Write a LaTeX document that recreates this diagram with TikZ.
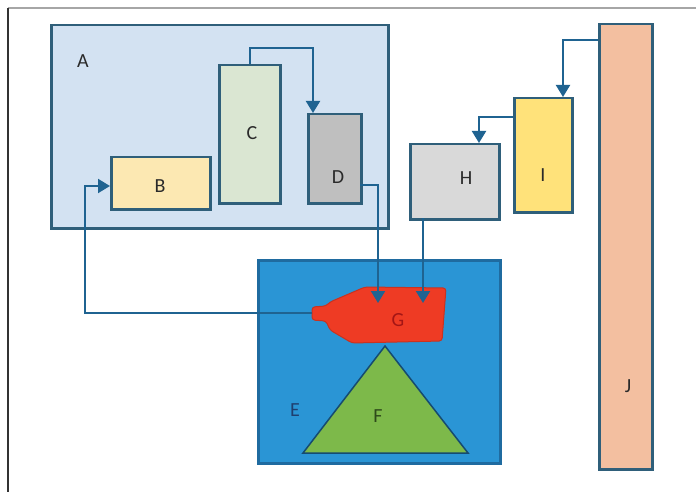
\documentclass[tikz,border=0pt]{standalone}
\usepackage{fontspec}
\setmainfont{Carlito}
\usetikzlibrary{arrows.meta,calc}
\definecolor{lineC}{HTML}{1F6391}
\definecolor{boxC}{HTML}{2F5F7A}
\definecolor{fillA}{HTML}{D3E2F2}
\definecolor{fillB}{HTML}{FCE8B2}
\definecolor{fillC}{HTML}{DAE6D2}
\definecolor{fillD}{HTML}{BFBFBF}
\definecolor{fillH}{HTML}{D9D9D9}
\definecolor{fillI}{HTML}{FFE27A}
\definecolor{fillJ}{HTML}{F3BFA0}
\definecolor{fillE}{HTML}{2A95D5}
\definecolor{edgeE}{HTML}{1F6BA0}
\definecolor{fillF}{HTML}{7DB94A}
\definecolor{fillG}{HTML}{EE3B24}
\definecolor{txtG}{HTML}{A31515}
\definecolor{txtE}{HTML}{1F3F6F}
\definecolor{txtF}{HTML}{2E4A1A}
\definecolor{txt}{HTML}{2A2A2A}
\begin{document}
\begin{tikzpicture}[x=1pt,y=-1pt,
  box/.style={draw=boxC,line width=2.5pt,inner sep=0pt,anchor=north west},
  lbl/.style={font=\fontsize{20}{22}\selectfont,text=txt,inner sep=0pt},
  conn/.style={draw=lineC,line width=2pt,-{Triangle[width=14pt,length=12pt]}},
  plain/.style={draw=lineC,line width=2pt}]
\useasboundingbox (0,0) rectangle (696,492);
\fill[white] (0,0) rectangle (696,492);
% frame lines
\draw[line width=1.5pt,color=black!35] (8,8) -- (696,8);
\draw[line width=1.5pt,color=black!80] (8,8) -- (8,492);
% A
\node[box,fill=fillA,minimum width=337pt,minimum height=203pt] (A) at (50,24) {};
\node[lbl] (Alab) at (83,61) {A};
\node[box,fill=fillB,minimum width=99pt,minimum height=52pt] (B) at (110,156) {};
\node[lbl] (Blab) at (160,186) {B};
\node[box,fill=fillC,minimum width=61pt,minimum height=138pt] (C) at (218,64) {};
\node[lbl] (Clab) at (252,133) {C};
\node[box,fill=fillD,minimum width=53pt,minimum height=89pt] (D) at (307,113) {};
\node[lbl] (Dlab) at (338,177) {D};
% right boxes
\node[box,fill=fillH,minimum width=89pt,minimum height=75pt] (H) at (409,143) {};
\node[lbl] (Hlab) at (466,178) {H};
\node[box,fill=fillI,minimum width=58pt,minimum height=114pt] (I) at (513,97) {};
\node[lbl] (Ilab) at (543,175) {I};
\node[box,fill=fillJ,minimum width=53pt,minimum height=445pt] (J) at (598,23) {};
\node[lbl] (Jlab) at (628,386) {J};
% E
\node[box,draw=edgeE,fill=fillE,minimum width=242pt,minimum height=203pt] (E) at (257,259) {};
\node[lbl,text=txtE] (Elab) at (295,410) {E};
% F
\draw[draw=edgeE!70!black,line width=1.5pt,fill=fillF] (385,346) -- (468,453) -- (303,453) -- cycle;
\node[lbl,text=txtF] (Flab) at (378,416) {F};
% G
\draw[fill=fillG,draw=fillG!85!black,line width=1pt,rounded corners=3pt]
  (365,287) -- (446,288) -- (442,341) -- (352,343) -- (330,330) -- (326,321)
  -- (312,320) -- (312,307) -- (326,306) -- (330,302) -- cycle;
\node[lbl,text=txtG] (Glab) at (398,320) {G};
% ports
\coordinate (gNoz) at (312,313);
\coordinate (gIn1) at (378,303);
\coordinate (gIn2) at (423,303);
\coordinate (dIn) at (313,113);
\coordinate (dOut) at (360,185);
\coordinate (bIn) at (110,186);
\coordinate (iIn) at (563,97);
\coordinate (iOut) at (513,117);
\coordinate (hIn) at (479,143);
\coordinate (hOut) at (423,218);
\coordinate (jOut) at (598,40);
% connectors
\draw[conn] (C.north) -- (C.north |- 0,48) -| (dIn);
\draw[conn] (dOut) -| (gIn1);
\draw[conn] (hOut) -- (gIn2);
\draw[conn] (gNoz) -| (85,186) -- (bIn);
\draw[conn] (jOut) -| (iIn);
\draw[conn] (iOut) -| (hIn);
\end{tikzpicture}
\end{document}
